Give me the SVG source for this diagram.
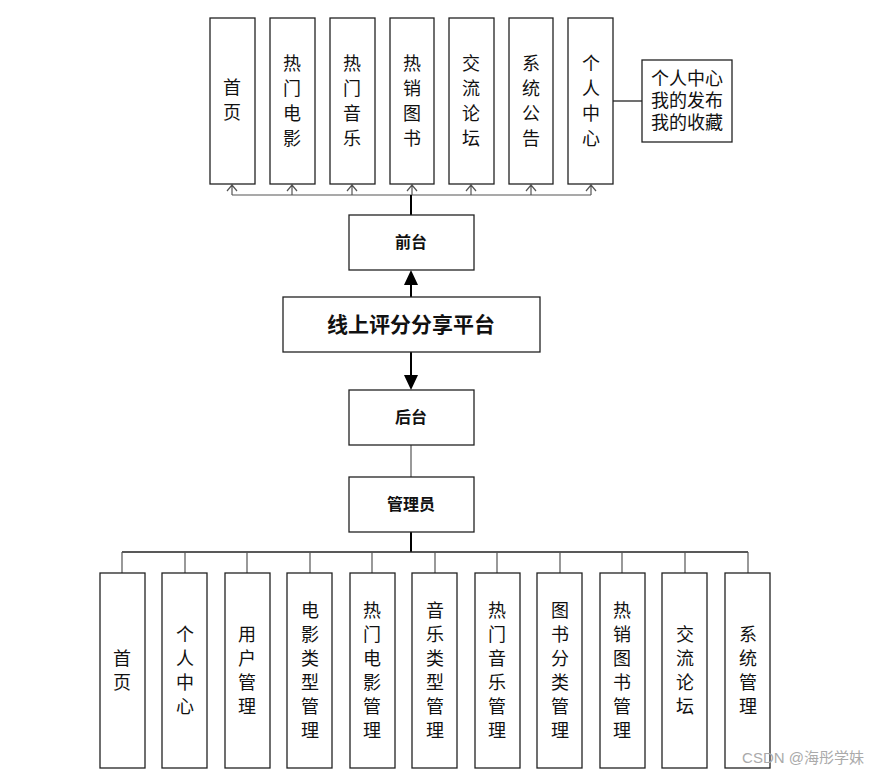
<svg xmlns="http://www.w3.org/2000/svg" width="887" height="775" viewBox="0 0 887 775">
<style>
.b{fill:#fff;stroke:#222;stroke-width:1.3}
.t{font-family:"Liberation Serif","Noto Sans CJK SC",serif;font-size:18px;fill:#111;text-anchor:middle}
.h{font-family:"Liberation Sans","Noto Sans CJK SC",sans-serif;font-size:16px;font-weight:bold;fill:#111;text-anchor:middle}
.l{stroke:#555;stroke-width:1.2;fill:none}
.k{stroke:#000;stroke-width:2;fill:none}
</style>
<defs>
<marker id="o" markerWidth="10" markerHeight="8" refX="5" refY="1" orient="auto-start-reverse" markerUnits="userSpaceOnUse" viewBox="0 0 10 8"><path d="M0,7 L5,1 L10,7" fill="none" stroke="#555" stroke-width="1.2" transform="rotate(0)"/></marker>
<marker id="f" markerWidth="14" markerHeight="14" refX="7" refY="0" markerUnits="userSpaceOnUse" viewBox="0 0 14 14"><path d="M0,14 L7,0 L14,14 Z" fill="#000"/></marker>
</defs>
<rect width="887" height="775" fill="#fff"/>
<g id="connectors">
<path class="l" d="M232,195 H591"/>
<path class="l" d="M232,195 V185"/><path class="l" d="M292,195 V185"/><path class="l" d="M352,195 V185"/><path class="l" d="M412,195 V185"/><path class="l" d="M471,195 V185"/><path class="l" d="M531,195 V185"/><path class="l" d="M591,195 V185"/>
<g class="l"><path d="M227,191 L232,185 L237,191 M287,191 L292,185 L297,191 M347,191 L352,185 L357,191 M407,191 L412,185 L417,191 M466,191 L471,185 L476,191 M526,191 L531,185 L536,191 M586,191 L591,185 L596,191"/></g>
<path class="k" d="M411,195 V215"/>
<path d="M613,101 H642" stroke="#222" stroke-width="1.3"/>
<path class="k" d="M411,297 V284"/><path d="M404,285 L411,270 L418,285 Z" fill="#000"/>
<path class="k" d="M411,352 V376"/><path d="M404,375 L411,390 L418,375 Z" fill="#000"/>
<path d="M411,445 V477" stroke="#555" stroke-width="1.2"/>
<path class="k" d="M411,532 V552"/>
<path d="M122,552 H748" stroke="#222" stroke-width="1.5"/>
<path class="l" d="M122,552V573M185,552V573M247,552V573M310,552V573M372,552V573M435,552V573M497,552V573M560,552V573M622,552V573M685,552V573M748,552V573"/>
</g>
<g id="top1"><rect class="b" x="210" y="18" width="45" height="166"/><text class="t"><tspan x="232" y="94">首</tspan><tspan x="232" y="119">页</tspan></text></g>
<g id="top2"><rect class="b" x="270" y="18" width="45" height="166"/><text class="t"><tspan x="292" y="70">热</tspan><tspan x="292" y="95">门</tspan><tspan x="292" y="120">电</tspan><tspan x="292" y="145">影</tspan></text></g>
<g id="top3"><rect class="b" x="330" y="18" width="45" height="166"/><text class="t"><tspan x="352" y="70">热</tspan><tspan x="352" y="95">门</tspan><tspan x="352" y="120">音</tspan><tspan x="352" y="145">乐</tspan></text></g>
<g id="top4"><rect class="b" x="390" y="18" width="44" height="166"/><text class="t"><tspan x="412" y="70">热</tspan><tspan x="412" y="95">销</tspan><tspan x="412" y="120">图</tspan><tspan x="412" y="145">书</tspan></text></g>
<g id="top5"><rect class="b" x="449" y="18" width="45" height="166"/><text class="t"><tspan x="471" y="70">交</tspan><tspan x="471" y="95">流</tspan><tspan x="471" y="120">论</tspan><tspan x="471" y="145">坛</tspan></text></g>
<g id="top6"><rect class="b" x="509" y="18" width="44" height="166"/><text class="t"><tspan x="531" y="70">系</tspan><tspan x="531" y="95">统</tspan><tspan x="531" y="120">公</tspan><tspan x="531" y="145">告</tspan></text></g>
<g id="top7"><rect class="b" x="568" y="18" width="45" height="166"/><text class="t"><tspan x="591" y="70">个</tspan><tspan x="591" y="95">人</tspan><tspan x="591" y="120">中</tspan><tspan x="591" y="145">心</tspan></text></g>
<g id="side"><rect class="b" x="642" y="60" width="90" height="82"/><text class="t"><tspan x="687" y="85">个人中心</tspan><tspan x="687" y="107">我的发布</tspan><tspan x="687" y="129">我的收藏</tspan></text></g>
<g id="front"><rect class="b" x="349" y="215" width="125" height="55"/><text class="h" x="411" y="248">前台</text></g>
<g id="main"><rect class="b" x="283" y="297" width="257" height="55"/><text class="h" x="411" y="332" style="font-size:21px">线上评分分享平台</text></g>
<g id="back"><rect class="b" x="349" y="390" width="125" height="55"/><text class="h" x="411" y="423">后台</text></g>
<g id="admin"><rect class="b" x="349" y="477" width="125" height="55"/><text class="h" x="411" y="510">管理员</text></g>
<g id="m1"><rect class="b" x="100" y="573" width="45" height="195"/><text class="t"><tspan x="122" y="665">首</tspan><tspan x="122" y="689">页</tspan></text></g>
<g id="m2"><rect class="b" x="162" y="573" width="45" height="195"/><text class="t"><tspan x="185" y="641">个</tspan><tspan x="185" y="665">人</tspan><tspan x="185" y="689">中</tspan><tspan x="185" y="713">心</tspan></text></g>
<g id="m3"><rect class="b" x="225" y="573" width="45" height="195"/><text class="t"><tspan x="247" y="641">用</tspan><tspan x="247" y="665">户</tspan><tspan x="247" y="689">管</tspan><tspan x="247" y="713">理</tspan></text></g>
<g id="m4"><rect class="b" x="287" y="573" width="45" height="195"/><text class="t"><tspan x="310" y="617">电</tspan><tspan x="310" y="641">影</tspan><tspan x="310" y="665">类</tspan><tspan x="310" y="689">型</tspan><tspan x="310" y="713">管</tspan><tspan x="310" y="737">理</tspan></text></g>
<g id="m5"><rect class="b" x="350" y="573" width="45" height="195"/><text class="t"><tspan x="372" y="617">热</tspan><tspan x="372" y="641">门</tspan><tspan x="372" y="665">电</tspan><tspan x="372" y="689">影</tspan><tspan x="372" y="713">管</tspan><tspan x="372" y="737">理</tspan></text></g>
<g id="m6"><rect class="b" x="412" y="573" width="45" height="195"/><text class="t"><tspan x="435" y="617">音</tspan><tspan x="435" y="641">乐</tspan><tspan x="435" y="665">类</tspan><tspan x="435" y="689">型</tspan><tspan x="435" y="713">管</tspan><tspan x="435" y="737">理</tspan></text></g>
<g id="m7"><rect class="b" x="475" y="573" width="45" height="195"/><text class="t"><tspan x="497" y="617">热</tspan><tspan x="497" y="641">门</tspan><tspan x="497" y="665">音</tspan><tspan x="497" y="689">乐</tspan><tspan x="497" y="713">管</tspan><tspan x="497" y="737">理</tspan></text></g>
<g id="m8"><rect class="b" x="537" y="573" width="45" height="195"/><text class="t"><tspan x="560" y="617">图</tspan><tspan x="560" y="641">书</tspan><tspan x="560" y="665">分</tspan><tspan x="560" y="689">类</tspan><tspan x="560" y="713">管</tspan><tspan x="560" y="737">理</tspan></text></g>
<g id="m9"><rect class="b" x="600" y="573" width="45" height="195"/><text class="t"><tspan x="622" y="617">热</tspan><tspan x="622" y="641">销</tspan><tspan x="622" y="665">图</tspan><tspan x="622" y="689">书</tspan><tspan x="622" y="713">管</tspan><tspan x="622" y="737">理</tspan></text></g>
<g id="m10"><rect class="b" x="662" y="573" width="45" height="195"/><text class="t"><tspan x="685" y="641">交</tspan><tspan x="685" y="665">流</tspan><tspan x="685" y="689">论</tspan><tspan x="685" y="713">坛</tspan></text></g>
<g id="m11"><rect class="b" x="725" y="573" width="45" height="195"/><text class="t"><tspan x="748" y="641">系</tspan><tspan x="748" y="665">统</tspan><tspan x="748" y="689">管</tspan><tspan x="748" y="713">理</tspan></text></g>
<text x="803" y="763" style="font-family:'Liberation Sans','Noto Sans CJK SC',sans-serif;font-size:15px;fill:#aaa;text-anchor:middle">CSDN @海彤学妹</text>
</svg>
